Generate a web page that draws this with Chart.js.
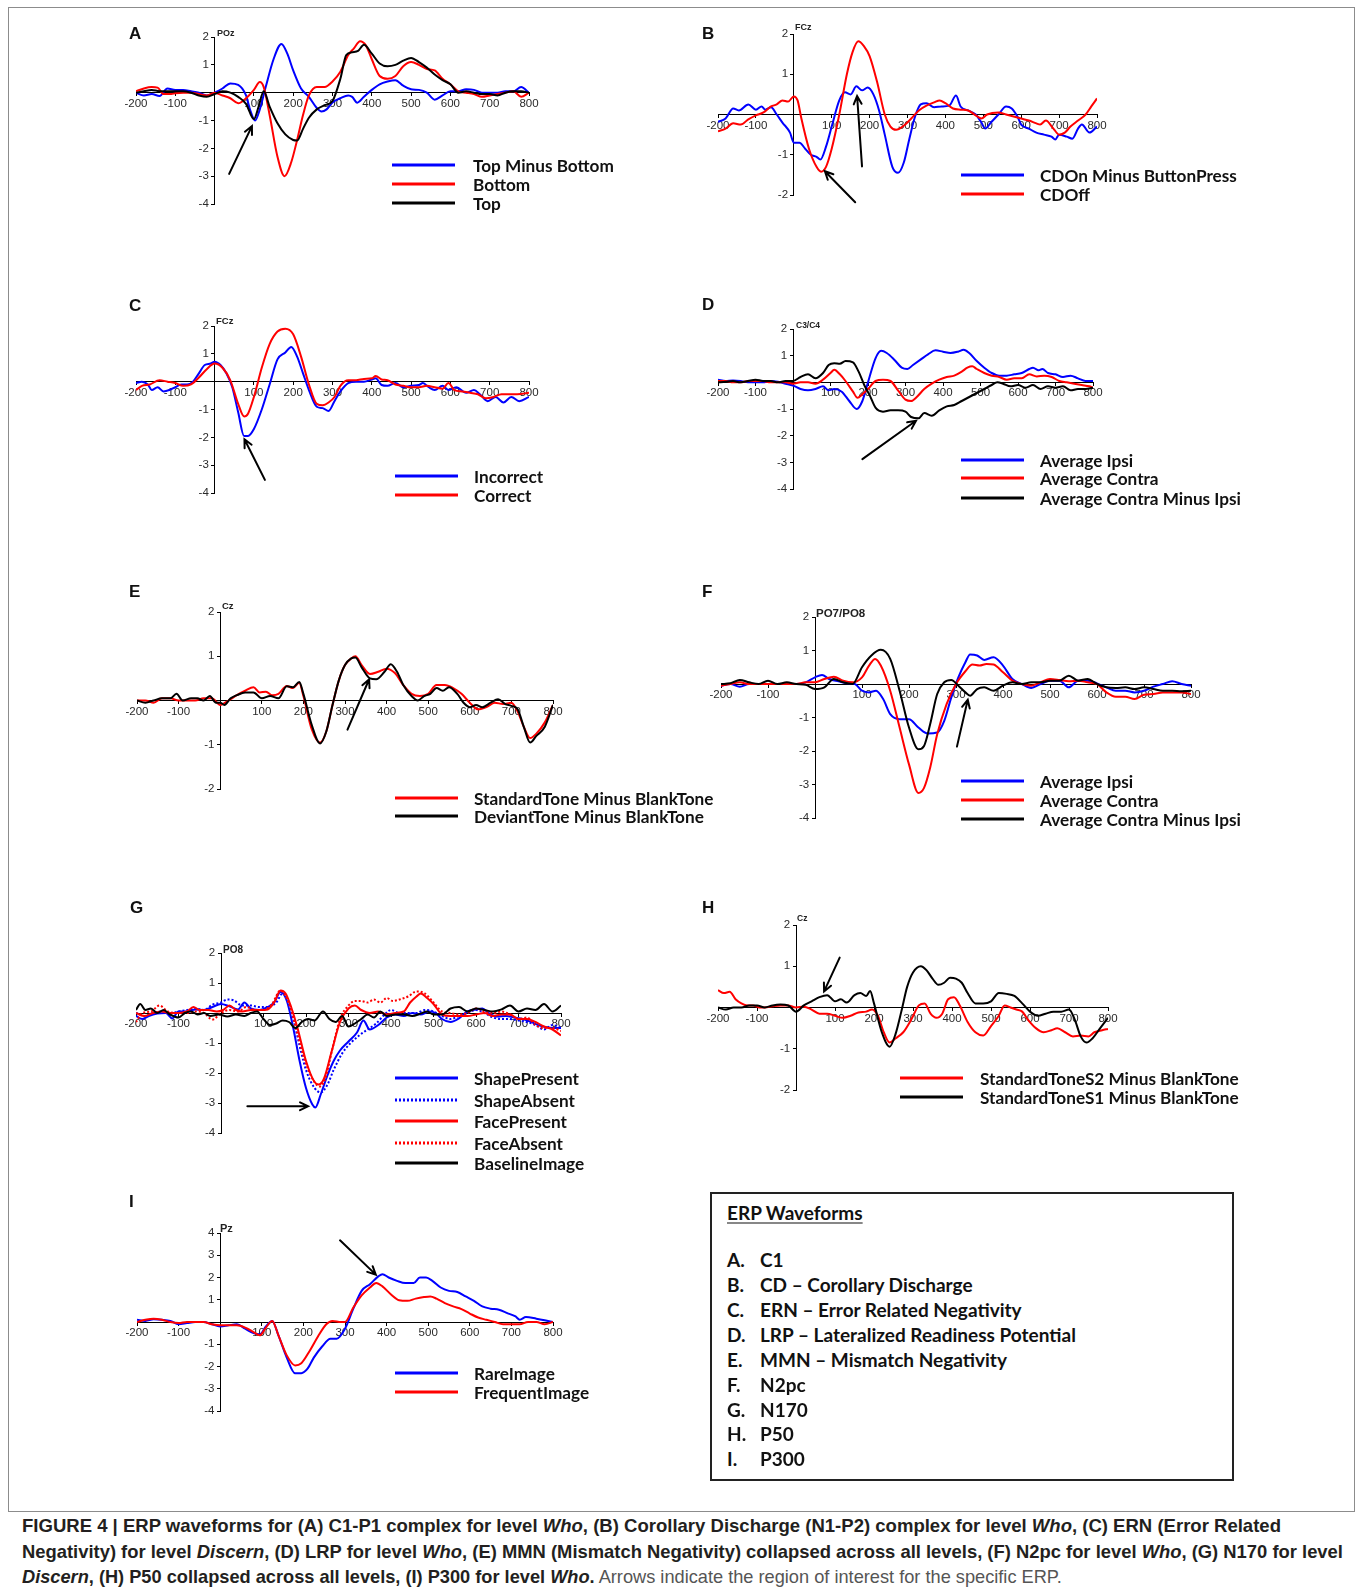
<!DOCTYPE html>
<html>
<head>
<meta charset="utf-8">
<title>ERP waveforms</title>
<script src="https://cdn.jsdelivr.net/npm/chart.js@4.4.1/dist/chart.umd.min.js"></script>
<style>
  html, body { margin: 0; padding: 0; background: #fff; }
  #fig { position: relative; width: 1362px; height: 1595px; overflow: hidden; background: #fff; }
  .frame { position: absolute; left: 8px; top: 7px; width: 1347px; height: 1505px; border: 1px solid #8c8c8c; box-sizing: border-box; }
  .letter { position: absolute; font: bold 17px "Liberation Sans", Arial, sans-serif; color: #111; transform: translateY(-50%); }
  .elec { position: absolute; font-family: "Liberation Sans", Arial, sans-serif; font-weight: bold; color: #222; transform: translateY(-50%); white-space: nowrap; }
  .lg-line { position: absolute; height: 3px; transform: translateY(-50%); }
  .lg-text { position: absolute; font: 700 17.2px Lato, "Open Sans", sans-serif; color: #111; transform: translateY(-50%); white-space: nowrap; }
  .box { position: absolute; left: 710px; top: 1192px; width: 524px; height: 289px; border: 2px solid #222; box-sizing: border-box; }
  .box-t { position: absolute; font: 700 19px Lato, "Open Sans", sans-serif; color: #111; transform: translateY(-50%); white-space: nowrap; }
  .cap { position: absolute; left: 22px; white-space: nowrap; font-family: "Liberation Sans Narrow", "Liberation Sans", Arial, sans-serif; font-size: 18.5px; color: #231f20; transform-origin: 0 50%; }
  .cap b { font-weight: bold; }
  .cap .reg { font-weight: normal; color: #555; }
</style>
</head>
<body>
<div id="fig">
  <div class="frame"></div>
</div>
<script>
// ---------- waveform data: [time (ms), amplitude (µV)] ----------
const xTicks = [-200, -100, 0, 100, 200, 300, 400, 500, 600, 700, 800];

// A  C1 (POz)
const A_topMinusBottom = [[-200,0],[-180,-0.1],[-160,-0.05],[-140,-0.12],[-120,0.15],[-100,0.1],[-80,0.1],[-60,0.05],[-40,0],[-20,-0.1],[0,0],[20,0.15],[40,0.33],[60,0.28],[80,-0.1],[90,-0.6],[103,-1.0],[115,-0.6],[130,0.2],[150,1.2],[170,1.75],[185,1.4],[200,0.8],[220,0.15],[240,-0.15],[260,-0.55],[272,-0.68],[285,-0.6],[300,-0.35],[320,-0.2],[340,-0.1],[350,-0.15],[363,-0.36],[380,-0.15],[400,0.1],[420,0.3],[440,0.4],[460,0.45],[480,0.25],[500,0.12],[520,0.1],[540,0],[560,-0.25],[580,-0.1],[600,0.05],[620,0.05],[640,0.12],[660,0.1],[680,0],[700,0],[720,0],[740,0.05],[760,0.05],[780,0.2],[800,0]];
const A_bottom = [[-200,0.05],[-180,0.15],[-160,0.2],[-145,0.18],[-130,-0.05],[-110,-0.05],[-100,-0.02],[-80,0],[-60,0],[-40,-0.05],[-20,-0.1],[0,0],[20,-0.1],[40,-0.2],[60,-0.38],[80,-0.2],[100,0.1],[115,0.38],[125,0.2],[140,-0.8],[160,-2.3],[178,-3.0],[195,-2.5],[210,-1.7],[225,-0.8],[240,-0.1],[260,0.2],[280,0.2],[300,0.4],[320,0.75],[340,1.35],[355,1.6],[370,1.85],[385,1.7],[400,1.2],[420,0.6],[440,0.5],[460,0.6],[480,0.95],[500,1.1],[520,1.0],[540,0.85],[560,0.8],[580,0.5],[600,0.3],[620,0.05],[640,0],[660,-0.05],[680,-0.15],[700,-0.1],[720,-0.05],[740,0],[760,0.05],[780,-0.15],[800,0]];
const A_top = [[-200,0],[-180,0.05],[-160,0.1],[-140,0.05],[-120,0.05],[-100,0.05],[-80,0.05],[-60,0],[-40,-0.1],[-20,-0.15],[0,-0.05],[20,0.05],[40,0],[60,-0.15],[80,-0.4],[100,-0.95],[112,-0.5],[125,0.05],[140,-0.5],[160,-1.1],[180,-1.5],[200,-1.7],[210,-1.72],[225,-1.3],[240,-0.9],[260,-0.6],[280,-0.45],[300,-0.3],[320,0.5],[335,1.35],[350,1.45],[365,1.5],[380,1.72],[400,1.4],[420,1.05],[440,0.95],[460,1.0],[480,1.15],[500,1.25],[520,1.1],[540,0.9],[560,0.65],[580,0.45],[600,0.3],[620,0],[640,0.05],[660,0],[680,-0.05],[700,-0.05],[720,-0.1],[740,0],[760,0.05],[780,0.05],[800,0]];

// B  Corollary discharge (FCz)
const B_cdOnMinusButton = [[-200,-0.18],[-180,-0.1],[-160,0.15],[-145,0.1],[-120,0.25],[-100,0.12],[-85,0.2],[-75,0.12],[-60,0.18],[-45,0],[-30,-0.2],[-10,-0.45],[0,-0.7],[15,-0.7],[30,-0.85],[45,-1.0],[60,-1.05],[70,-1.12],[85,-0.8],[100,-0.3],[120,0.35],[135,0.55],[150,0.5],[165,0.7],[180,0.6],[195,0.67],[210,0.5],[225,0.1],[240,-0.5],[260,-1.3],[275,-1.45],[290,-1.2],[305,-0.6],[320,-0.05],[335,0.25],[350,0.28],[370,0.18],[390,0.2],[410,0.22],[428,0.47],[440,0.2],[460,0.1],[480,0],[495,-0.2],[505,-0.35],[520,-0.2],[540,0],[560,0.2],[575,0.15],[590,-0.05],[600,-0.25],[620,-0.35],[640,-0.45],[660,-0.5],[680,-0.55],[690,-0.62],[700,-0.5],[720,-0.55],[735,-0.6],[750,-0.35],[760,-0.25],[780,-0.45],[800,-0.3]];
const B_cdOff = [[-200,-0.42],[-180,-0.35],[-160,-0.22],[-140,-0.25],[-120,-0.12],[-100,-0.02],[-80,0.05],[-60,0.2],[-45,0.25],[-30,0.35],[-15,0.32],[0,0.45],[10,0.35],[20,-0.1],[40,-0.85],[60,-1.3],[72,-1.42],[85,-1.3],[100,-0.85],[120,0],[140,1.0],[155,1.55],[170,1.82],[185,1.7],[200,1.45],[220,0.8],[240,0],[255,-0.3],[270,-0.38],[290,-0.28],[310,-0.1],[330,0.1],[350,0.22],[370,0.3],[385,0.35],[400,0.28],[420,0.15],[440,0.12],[460,0.1],[480,-0.02],[495,-0.1],[510,0],[540,0.05],[560,0],[580,-0.05],[600,-0.1],[620,-0.15],[640,-0.22],[650,-0.25],[665,-0.15],[685,-0.35],[700,-0.5],[715,-0.45],[730,-0.3],[750,-0.15],[770,0],[785,0.2],[800,0.4]];

// C  ERN (FCz)
const C_incorrect = [[-200,-0.05],[-185,0],[-170,-0.1],[-160,-0.3],[-145,-0.2],[-130,-0.35],[-115,-0.3],[-100,-0.2],[-85,-0.1],[-70,-0.1],[-55,0],[-40,0.3],[-25,0.6],[-10,0.65],[0,0.72],[15,0.6],[30,0.3],[45,-0.2],[60,-1.1],[75,-1.95],[85,-1.95],[100,-1.7],[120,-1.0],[140,-0.1],[160,0.8],[180,1.05],[195,1.25],[210,0.9],[225,0.3],[240,-0.3],[260,-0.9],[275,-0.95],[290,-1.05],[305,-0.7],[320,-0.35],[340,-0.05],[360,0],[380,0],[400,0.08],[410,0.12],[425,-0.12],[440,-0.15],[460,-0.05],[480,-0.2],[500,-0.15],[520,-0.12],[530,-0.05],[545,-0.2],[560,-0.3],[580,-0.15],[595,-0.3],[615,-0.2],[640,-0.4],[660,-0.3],[675,-0.45],[695,-0.7],[715,-0.55],[735,-0.75],[755,-0.55],[775,-0.7],[800,-0.55]];
const C_correct = [[-200,-0.3],[-185,-0.15],[-165,-0.1],[-140,0.05],[-120,0],[-100,-0.05],[-80,-0.15],[-60,-0.1],[-40,0.15],[-20,0.45],[0,0.65],[20,0.5],[40,0.05],[60,-0.8],[75,-1.25],[85,-1.15],[100,-0.55],[120,0.5],[140,1.35],[160,1.8],[180,1.9],[200,1.7],[220,0.9],[240,-0.1],[260,-0.8],[275,-0.85],[290,-0.75],[305,-0.55],[320,-0.15],[340,0.05],[360,0.05],[380,0.1],[400,0.12],[410,0.2],[425,0.08],[440,0.05],[460,-0.1],[480,-0.15],[500,-0.2],[520,-0.2],[540,-0.15],[560,-0.2],[580,-0.25],[595,-0.05],[610,-0.3],[630,-0.35],[650,-0.4],[670,-0.45],[690,-0.6],[710,-0.55],[730,-0.45],[750,-0.45],[770,-0.45],[800,-0.4]];

// D  LRP (C3/C4)
const D_ipsi = [[-200,0.1],[-180,0.05],[-160,0.07],[-140,0.05],[-120,0],[-100,0],[-80,0],[-60,0.05],[-40,0.02],[-20,-0.05],[0,-0.12],[20,-0.25],[40,-0.3],[60,-0.25],[80,-0.15],[95,-0.3],[110,-0.25],[130,-0.35],[150,-0.7],[170,-1.0],[185,-0.7],[200,0],[220,0.9],[235,1.18],[250,1.1],[270,0.85],[290,0.55],[305,0.5],[320,0.65],[340,0.85],[360,1.05],[380,1.2],[400,1.15],[420,1.1],[440,1.15],[455,1.22],[470,1.1],[490,0.8],[510,0.55],[530,0.35],[550,0.25],[570,0.25],[590,0.3],[610,0.35],[630,0.5],[640,0.55],[655,0.45],[665,0.5],[680,0.35],[700,0.3],[720,0.2],[740,0.25],[760,0.15],[780,0.05],[800,0.05]];
const D_contra = [[-200,0.05],[-180,0.05],[-160,0],[-140,0],[-120,0.05],[-100,0.05],[-80,0.05],[-60,0],[-40,0],[-20,0],[0,-0.05],[20,0],[40,0],[60,-0.05],[80,0.1],[100,0.35],[110,0.47],[125,0.3],[140,0.05],[160,-0.35],[172,-0.58],[185,-0.45],[200,-0.25],[220,0.05],[240,0.1],[260,0.05],[280,-0.3],[300,-0.65],[315,-0.7],[330,-0.55],[350,-0.25],[370,-0.05],[390,0.1],[410,0.2],[430,0.25],[450,0.4],[465,0.55],[478,0.6],[490,0.5],[510,0.35],[530,0.25],[550,0.2],[570,0.1],[590,0.15],[610,0.15],[630,0.3],[650,0.22],[670,0.25],[690,0.2],[710,0.05],[730,0],[750,-0.05],[770,-0.1],[790,-0.15],[800,-0.2]];
const D_contraMinusIpsi = [[-200,0],[-180,0.02],[-160,0.05],[-140,0],[-120,0.05],[-100,0.1],[-80,0.05],[-60,0.05],[-40,0],[-20,0.05],[0,0.05],[20,0.2],[40,0.3],[60,0.15],[80,0.35],[95,0.65],[110,0.72],[125,0.7],[140,0.8],[160,0.75],[175,0.4],[190,-0.1],[205,-0.5],[220,-0.95],[240,-1.1],[260,-1.05],[280,-1.05],[300,-1.1],[315,-1.3],[335,-1.35],[350,-1.15],[370,-1.25],[390,-1.05],[410,-0.9],[430,-0.85],[450,-0.7],[470,-0.55],[490,-0.4],[510,-0.25],[530,-0.1],[545,0],[560,-0.05],[580,-0.15],[600,-0.1],[620,-0.2],[640,-0.1],[660,-0.25],[680,-0.15],[700,-0.2],[720,-0.15],[740,-0.3],[760,-0.25],[780,-0.25],[800,-0.2]];

// E  MMN (Cz)
const E_standard = [[-200,0],[-180,0],[-160,-0.05],[-140,0.05],[-120,0.05],[-100,0],[-80,0],[-60,0],[-40,0.05],[-20,0.05],[0,-0.1],[20,0],[40,0.12],[60,0.22],[80,0.3],[95,0.18],[110,0.2],[125,0.12],[140,0.15],[160,0.33],[175,0.28],[190,0.4],[200,0.1],[220,-0.65],[240,-0.95],[255,-0.7],[270,-0.1],[285,0.45],[300,0.8],[315,0.95],[325,1.0],[340,0.8],[360,0.6],[380,0.65],[400,0.72],[420,0.62],[440,0.35],[460,0.15],[480,0.1],[500,0.15],[520,0.35],[540,0.35],[560,0.28],[580,0.15],[600,-0.05],[620,-0.2],[640,-0.15],[660,-0.05],[680,-0.08],[700,-0.05],[715,-0.25],[730,-0.6],[745,-0.85],[760,-0.75],[780,-0.5],[800,-0.1]];
const E_deviant = [[-200,0],[-180,-0.05],[-160,0],[-140,0.05],[-120,0.05],[-105,0.15],[-90,0],[-70,0.05],[-55,0.05],[-40,0],[-25,0.1],[-10,-0.05],[0,-0.05],[10,-0.1],[25,0.05],[40,0.12],[60,0.18],[80,0.18],[100,0.05],[120,0.1],[140,0.05],[160,0.32],[175,0.3],[190,0.42],[200,0.15],[220,-0.55],[240,-0.97],[255,-0.7],[270,-0.1],[285,0.45],[300,0.8],[315,0.95],[325,0.97],[340,0.75],[360,0.5],[375,0.48],[395,0.65],[410,0.82],[425,0.65],[440,0.35],[460,0.1],[475,0],[490,0.1],[505,0.15],[520,0.28],[535,0.22],[550,0.3],[570,0.15],[585,-0.05],[600,-0.15],[615,-0.1],[630,-0.15],[650,-0.05],[668,0.03],[685,-0.08],[700,-0.12],[715,-0.2],[730,-0.6],[745,-0.95],[760,-0.8],[780,-0.6],[800,-0.1]];

// F  N2pc (PO7/PO8)
const F_ipsi = [[-200,-0.05],[-180,0],[-160,-0.08],[-140,0],[-120,0],[-100,0],[-80,0],[-60,0],[-40,0],[-20,0.05],[0,0.2],[15,0.27],[30,0.15],[50,0.08],[70,0.02],[85,0],[100,-0.2],[115,-0.25],[130,-0.2],[145,-0.45],[160,-0.9],[180,-1.05],[200,-1.05],[220,-1.3],[240,-1.48],[260,-1.45],[275,-1.1],[290,-0.4],[305,0.2],[320,0.65],[330,0.88],[345,0.85],[360,0.72],[380,0.8],[400,0.55],[420,0.15],[440,0],[460,-0.12],[480,0],[500,0.1],[520,0.1],[540,-0.1],[560,0.1],[580,0.1],[600,0.02],[620,-0.1],[640,-0.2],[660,-0.2],[680,-0.25],[700,-0.2],[720,-0.08],[740,0],[760,0.08],[780,0],[800,-0.05]];
const F_contra = [[-200,-0.05],[-180,0],[-160,0.05],[-140,0],[-120,0],[-100,0],[-80,0],[-60,0],[-40,0],[-20,0.05],[0,0.05],[20,0.15],[40,0.22],[60,0.1],[80,0.05],[100,0.2],[115,0.55],[128,0.75],[140,0.55],[160,-0.2],[180,-1.3],[200,-2.4],[220,-3.25],[232,-3.1],[245,-2.5],[260,-1.5],[280,-0.6],[300,0],[320,0.38],[335,0.58],[350,0.55],[365,0.6],[380,0.58],[400,0.35],[420,0.1],[440,0],[460,-0.05],[480,0.05],[500,0.15],[520,0.12],[540,0.08],[560,0.1],[580,0.05],[600,0],[620,-0.25],[640,-0.38],[660,-0.38],[680,-0.45],[700,-0.32],[720,-0.3],[740,-0.25],[760,-0.25],[780,-0.25],[800,-0.3]];
const F_contraMinusIpsi = [[-200,0],[-180,0.02],[-160,0.12],[-140,0.05],[-120,0],[-100,0.1],[-80,0],[-60,0.05],[-40,0],[-20,-0.02],[0,-0.15],[20,-0.1],[40,0.15],[60,0.05],[80,0],[100,0.5],[120,0.85],[140,1.02],[160,0.75],[180,-0.2],[200,-1.3],[220,-1.95],[232,-1.85],[245,-1.2],[260,-0.3],[275,0.05],[290,0.12],[305,-0.05],[320,-0.25],[330,-0.35],[345,-0.15],[360,-0.1],[380,-0.2],[400,-0.05],[420,0.05],[440,0],[460,0.05],[480,0.05],[500,0.1],[520,0.1],[540,0.25],[560,0.1],[580,0.15],[600,0],[620,-0.1],[640,-0.12],[660,-0.1],[680,-0.15],[700,-0.1],[720,-0.15],[740,-0.2],[760,-0.2],[780,-0.22],[800,-0.2]];

// G  N170 (PO8)
const G_shapePresent = [[-200,-0.1],[-185,-0.2],[-170,-0.1],[-150,-0.02],[-130,0],[-115,-0.18],[-100,0.05],[-80,0.05],[-60,0.12],[-40,0.1],[-20,0.2],[0,0.3],[20,0.22],[40,0.12],[55,0.35],[70,0.15],[90,0.1],[110,0.2],[125,0.35],[140,0.7],[155,0.4],[170,-0.5],[185,-1.6],[200,-2.5],[215,-3.05],[222,-3.15],[235,-2.7],[250,-2.1],[265,-1.6],[280,-1.25],[300,-0.95],[320,-0.65],[335,-0.25],[350,-0.55],[370,-0.4],[390,-0.15],[410,-0.05],[430,-0.1],[450,0],[470,-0.05],[490,0.05],[505,0],[520,-0.2],[540,-0.3],[560,-0.18],[580,0.05],[600,0.12],[615,0.15],[630,0],[650,-0.12],[670,-0.1],[690,-0.15],[710,-0.2],[730,-0.3],[750,-0.42],[770,-0.48],[785,-0.5],[800,-0.5]];
const G_shapeAbsent = [[-200,0],[-180,-0.1],[-160,0],[-140,0.05],[-120,0],[-100,0.05],[-80,0.1],[-60,0.15],[-40,0.1],[-20,0.28],[0,0.35],[15,0.45],[30,0.42],[50,0.25],[70,0.25],[90,0.2],[110,0.2],[130,0.35],[145,0.65],[155,0.5],[170,-0.2],[185,-1.1],[200,-1.9],[220,-2.5],[235,-2.65],[250,-2.4],[265,-1.9],[285,-1.35],[305,-1.0],[325,-0.75],[345,-0.55],[365,-0.35],[385,-0.05],[400,0.1],[420,0],[440,0],[460,0],[480,0.1],[500,0.05],[520,-0.1],[540,-0.2],[560,-0.1],[580,0],[600,0.1],[620,0],[640,-0.15],[660,-0.2],[680,-0.2],[700,-0.25],[720,-0.3],[740,-0.4],[760,-0.55],[780,-0.4],[800,-0.5]];
const G_facePresent = [[-200,0],[-180,-0.1],[-160,0],[-140,0.05],[-120,0],[-100,0],[-80,0.05],[-65,0.2],[-50,0.1],[-30,0.1],[-10,0.05],[5,0.1],[20,0.25],[35,0.1],[50,0.05],[70,0.1],[90,0.1],[110,0.12],[125,0.35],[140,0.75],[152,0.65],[165,0.2],[180,-0.5],[200,-1.6],[220,-2.3],[230,-2.38],[242,-2.2],[260,-1.3],[280,-0.3],[300,0.15],[315,0.25],[330,0.1],[350,0],[370,0.05],[390,-0.05],[410,0],[430,0.05],[445,0.35],[460,0.55],[470,0.65],[485,0.5],[500,0.3],[520,-0.05],[540,-0.1],[560,-0.1],[580,-0.1],[600,-0.05],[620,0],[640,-0.1],[660,-0.05],[680,-0.05],[700,-0.2],[720,-0.2],[740,-0.3],[760,-0.45],[780,-0.55],[800,-0.75]];
const G_faceAbsent = [[-200,-0.3],[-185,0],[-165,0.05],[-145,0.25],[-125,0.05],[-100,0],[-80,0],[-60,0.05],[-40,0],[-20,-0.22],[0,0],[20,0.1],[40,0.05],[60,0.2],[80,0.1],[100,0.1],[120,0.3],[140,0.75],[150,0.6],[165,0.1],[180,-0.7],[200,-1.7],[220,-2.3],[232,-2.45],[245,-2.2],[262,-1.2],[280,-0.2],[300,0.25],[315,0.4],[330,0.4],[345,0.35],[360,0.45],[375,0.35],[390,0.5],[405,0.4],[420,0.45],[440,0.55],[460,0.72],[480,0.65],[500,0.35],[520,0.05],[540,0],[560,-0.05],[580,0],[600,0.15],[620,0.05],[640,0],[660,0.05],[680,-0.05],[700,-0.2],[720,-0.15],[740,-0.4],[760,-0.5],[780,-0.5],[800,-0.6]];
const G_baselineImage = [[-200,0.1],[-190,0.3],[-178,0.1],[-165,0.15],[-150,0],[-135,0.1],[-120,-0.05],[-100,-0.15],[-85,0],[-70,0.05],[-55,-0.05],[-40,0],[-25,-0.1],[-5,-0.05],[15,-0.12],[35,-0.05],[55,-0.1],[70,0],[85,0.05],[100,-0.2],[115,-0.4],[130,-0.35],[145,-0.25],[160,-0.3],[175,-0.5],[190,-0.3],[205,-0.2],[220,-0.25],[240,0.05],[255,-0.2],[270,-0.3],[285,-0.1],[300,-0.45],[315,-0.35],[330,-0.2],[345,-0.05],[360,-0.15],[375,0.05],[390,-0.1],[410,-0.05],[430,-0.05],[450,-0.1],[470,-0.02],[485,0.05],[500,-0.05],[520,-0.05],[540,0.15],[560,0.2],[580,0.05],[600,0.15],[620,0.1],[640,0.05],[660,0.12],[680,0.25],[700,0.05],[720,0.15],[740,0.1],[760,0.3],[780,0.05],[800,0.25]];

// H  P50 (Cz)
const H_s2MinusBlank = [[-200,0.42],[-185,0.35],[-170,0.38],[-155,0.2],[-140,0.1],[-125,0.05],[-110,0.05],[-95,0],[-80,0],[-60,0.03],[-40,0.05],[-20,0.05],[0,0],[20,0.02],[40,-0.05],[60,-0.15],[80,-0.15],[100,-0.2],[120,-0.25],[140,-0.2],[160,-0.12],[180,-0.1],[195,-0.05],[210,-0.2],[225,-0.6],[240,-0.85],[255,-0.75],[275,-0.6],[295,-0.3],[315,0.05],[330,0.1],[345,-0.15],[360,-0.25],[375,-0.15],[390,0.2],[405,0.25],[420,0.05],[440,-0.35],[460,-0.6],[480,-0.68],[500,-0.45],[520,-0.2],[535,0.05],[550,0],[565,-0.05],[580,-0.1],[595,-0.3],[615,-0.5],[635,-0.6],[655,-0.55],[670,-0.5],[690,-0.6],[710,-0.7],[730,-0.68],[750,-0.7],[765,-0.6],[785,-0.55],[800,-0.52]];
const H_s1MinusBlank = [[-200,0],[-180,-0.05],[-160,0],[-140,0],[-120,0.05],[-100,0.05],[-80,0],[-60,0.05],[-40,0.07],[-20,0.05],[0,-0.1],[20,0.05],[40,0.15],[60,0.25],[80,0.3],[100,0.15],[115,0.2],[130,0.12],[150,0.3],[165,0.35],[180,0.28],[190,0.4],[200,0.1],[220,-0.6],[240,-0.95],[255,-0.65],[270,-0.1],[285,0.5],[300,0.85],[320,1.0],[335,0.9],[350,0.7],[365,0.55],[380,0.6],[395,0.72],[410,0.7],[425,0.6],[440,0.35],[460,0.1],[480,0.1],[500,0.15],[520,0.35],[540,0.33],[560,0.28],[580,0.1],[600,-0.1],[620,-0.2],[640,-0.15],[660,-0.1],[680,-0.1],[700,-0.05],[715,-0.3],[730,-0.7],[745,-0.85],[760,-0.75],[780,-0.5],[800,-0.25]];

// I  P300 (Pz)
const I_rareImage = [[-200,0.1],[-180,0.05],[-160,0.12],[-140,0.1],[-120,0.05],[-100,-0.1],[-80,-0.05],[-60,0],[-40,0],[-20,-0.1],[0,-0.2],[20,-0.15],[40,-0.1],[60,-0.3],[80,-0.5],[95,-0.55],[110,-0.2],[125,0.05],[140,-0.6],[160,-1.6],[180,-2.3],[195,-2.3],[210,-2.1],[225,-1.6],[245,-1.1],[265,-0.75],[280,-0.75],[300,-0.3],[320,0.6],[340,1.4],[360,1.7],[380,2.05],[390,2.15],[405,2.0],[425,1.85],[445,1.75],[465,1.75],[480,2.0],[495,2.0],[510,1.85],[530,1.55],[550,1.4],[570,1.35],[590,1.15],[610,0.95],[630,0.7],[650,0.6],[670,0.55],[690,0.4],[710,0.25],[720,0.1],[735,0.22],[760,0.15],[780,0.08],[800,0]];
const I_frequentImage = [[-200,0],[-180,0.1],[-160,0.15],[-140,0.1],[-120,0],[-100,-0.05],[-80,0],[-60,0],[-40,0],[-20,-0.1],[0,-0.15],[20,-0.15],[40,-0.15],[60,-0.25],[80,-0.45],[95,-0.6],[110,-0.25],[125,0.05],[140,-0.6],[160,-1.5],[180,-1.95],[195,-1.85],[215,-1.3],[235,-0.65],[255,-0.1],[270,0.05],[290,0],[300,0],[320,0.65],[340,1.2],[360,1.55],[375,1.75],[390,1.6],[410,1.25],[430,0.98],[450,0.95],[470,1.05],[490,1.12],[505,1.15],[520,1.05],[540,0.85],[560,0.7],[580,0.58],[600,0.38],[620,0.2],[640,0.1],[660,0],[680,-0.1],[700,-0.1],[720,-0.1],[740,0],[760,0],[780,-0.1],[800,0]];

// Arrows marking each region of interest: [tailTime, tailAmp, headTime, headAmp]
const A_arrows = [[37,-2.92,95,-1.2]];
const B_arrows = [[162,-2.18,82,-1.41],[180,-1.29,167,0.46]];
const C_arrows = [[128,-3.53,76,-2.07]];
const D_arrows = [[185,-2.88,328,-1.44]];
const E_arrows = [[306,-0.66,358,0.48]];
const F_arrows = [[302,-1.87,325,-0.47]];
const G_arrows = [[62,-3.11,205,-3.11]];
const H_arrows = [[112,1.21,72,0.39]];
const I_arrows = [[288,3.67,374,2.13]];

// Legend labels
const A_labels = ['Top Minus Bottom', 'Bottom', 'Top'];
const B_labels = ['CDOn Minus ButtonPress', 'CDOff'];
const C_labels = ['Incorrect', 'Correct'];
const D_labels = ['Average Ipsi', 'Average Contra', 'Average Contra Minus Ipsi'];
const E_labels = ['StandardTone Minus BlankTone', 'DeviantTone Minus BlankTone'];
const F_labels = ['Average Ipsi', 'Average Contra', 'Average Contra Minus Ipsi'];
const G_labels = ['ShapePresent', 'ShapeAbsent', 'FacePresent', 'FaceAbsent', 'BaselineImage'];
const H_labels = ['StandardToneS2 Minus BlankTone', 'StandardToneS1 Minus BlankTone'];
const I_labels = ['RareImage', 'FrequentImage'];

const boxTitle = 'ERP Waveforms';
const boxKeys = ['A.', 'B.', 'C.', 'D.', 'E.', 'F.', 'G.', 'H.', 'I.'];
const boxItems = ['C1', 'CD \u2013 Corollary Discharge', 'ERN \u2013 Error Related Negativity', 'LRP \u2013 Lateralized Readiness Potential', 'MMN \u2013 Mismatch Negativity', 'N2pc', 'N170', 'P50', 'P300'];

// ---------- layout & styling ----------
const BLUE = '#0000ff', RED = '#ff0000', BLACK = '#000000';
const DOT = [2, 2];

const panels = [
  { letter: 'A', lx: 129, ly: 34, elec: 'POz', ex: 217, ey: 33, es: 9,
    x0: 136, x1: 529, yTop: 37, yBot: 204, ymin: -4, ymax: 2,
    series: [[A_topMinusBottom, BLUE], [A_bottom, RED], [A_top, BLACK]], labels: A_labels,
    legX: 392, legTextX: 473, legY: [165, 184, 203], arrows: A_arrows },
  { letter: 'B', lx: 702, ly: 34, elec: 'FCz', ex: 795, ey: 27, es: 9,
    x0: 718, x1: 1097, yTop: 34, yBot: 195, ymin: -2, ymax: 2,
    series: [[B_cdOnMinusButton, BLUE], [B_cdOff, RED]], labels: B_labels,
    legX: 961, legTextX: 1040, legY: [175, 193.5], arrows: B_arrows },
  { letter: 'C', lx: 129, ly: 306, elec: 'FCz', ex: 216, ey: 320, es: 9.5,
    x0: 136, x1: 529, yTop: 326, yBot: 493, ymin: -4, ymax: 2,
    series: [[C_incorrect, BLUE], [C_correct, RED]], labels: C_labels,
    legX: 395, legTextX: 474, legY: [476, 494.5], arrows: C_arrows },
  { letter: 'D', lx: 702, ly: 305, elec: 'C3/C4', ex: 796, ey: 325, es: 8.5,
    x0: 718, x1: 1093, yTop: 329, yBot: 489, ymin: -4, ymax: 2,
    series: [[D_ipsi, BLUE], [D_contra, RED], [D_contraMinusIpsi, BLACK]], labels: D_labels,
    legX: 961, legTextX: 1040, legY: [460, 478, 497.5], arrows: D_arrows },
  { letter: 'E', lx: 129, ly: 592, elec: 'Cz', ex: 222, ey: 605, es: 9.5,
    x0: 137, x1: 553, yTop: 612, yBot: 789, ymin: -2, ymax: 2,
    series: [[E_standard, RED], [E_deviant, BLACK]], labels: E_labels,
    legX: 395, legTextX: 474, legY: [797.5, 816], arrows: E_arrows },
  { letter: 'F', lx: 702, ly: 592, elec: 'PO7/PO8', ex: 816, ey: 613, es: 11.5,
    x0: 721, x1: 1191, yTop: 617, yBot: 818, ymin: -4, ymax: 2,
    series: [[F_ipsi, BLUE], [F_contra, RED], [F_contraMinusIpsi, BLACK]], labels: F_labels,
    legX: 961, legTextX: 1040, legY: [781, 799.5, 819], arrows: F_arrows },
  { letter: 'G', lx: 130, ly: 908, elec: 'PO8', ex: 223, ey: 949, es: 10,
    x0: 136, x1: 561, yTop: 953, yBot: 1133, ymin: -4, ymax: 2,
    series: [[G_shapePresent, BLUE], [G_shapeAbsent, BLUE, DOT], [G_facePresent, RED], [G_faceAbsent, RED, DOT], [G_baselineImage, BLACK]], labels: G_labels,
    legX: 395, legTextX: 474, legY: [1078, 1099.5, 1121, 1142.5, 1163], arrows: G_arrows },
  { letter: 'H', lx: 702, ly: 908, elec: 'Cz', ex: 797, ey: 918, es: 8.5,
    x0: 718, x1: 1108, yTop: 925, yBot: 1090, ymin: -2, ymax: 2,
    series: [[H_s2MinusBlank, RED], [H_s1MinusBlank, BLACK]], labels: H_labels,
    legX: 900, legTextX: 980, legY: [1078, 1096.5], arrows: H_arrows },
  { letter: 'I', lx: 129, ly: 1202, elec: 'Pz', ex: 220, ey: 1228, es: 11,
    x0: 137, x1: 553, yTop: 1233, yBot: 1411, ymin: -4, ymax: 4,
    series: [[I_rareImage, BLUE], [I_frequentImage, RED]], labels: I_labels,
    legX: 395, legTextX: 474, legY: [1373, 1391.5], arrows: I_arrows }
];

const fig = document.getElementById('fig');
const PAD = 40;
const tickFont = { family: "'Liberation Sans', Arial, sans-serif", size: 11.5 };

function addDiv(cls, css, html) {
  const d = document.createElement('div');
  d.className = cls;
  d.style.cssText = css;
  if (html !== undefined) d.innerHTML = html;
  fig.appendChild(d);
  return d;
}

function arrowPlugin(list) {
  return {
    id: 'roiArrows',
    afterDatasetsDraw(chart) {
      const ctx = chart.ctx, xs = chart.scales.x, ys = chart.scales.y;
      ctx.save();
      ctx.strokeStyle = '#000';
      ctx.lineWidth = 2;
      ctx.lineCap = 'round';
      for (const [t0, v0, t1, v1] of list) {
        const x0 = xs.getPixelForValue(t0), y0 = ys.getPixelForValue(v0);
        const x1 = xs.getPixelForValue(t1), y1 = ys.getPixelForValue(v1);
        const ang = Math.atan2(y1 - y0, x1 - x0), L = 9, spread = 0.45;
        ctx.beginPath();
        ctx.moveTo(x0, y0); ctx.lineTo(x1, y1);
        ctx.moveTo(x1 - L * Math.cos(ang - spread), y1 - L * Math.sin(ang - spread));
        ctx.lineTo(x1, y1);
        ctx.lineTo(x1 - L * Math.cos(ang + spread), y1 - L * Math.sin(ang + spread));
        ctx.stroke();
      }
      ctx.restore();
    }
  };
}

function buildPanel(p) {
  const w = p.x1 - p.x0 + 2 * PAD, h = p.yBot - p.yTop + 2 * PAD;
  const cv = document.createElement('canvas');
  cv.width = w; cv.height = h;
  cv.style.cssText = `position:absolute;left:${p.x0 - PAD}px;top:${p.yTop - PAD}px;width:${w}px;height:${h}px;`;
  fig.appendChild(cv);

  const datasets = p.series.map(([pts, color, dash], i) => ({
    label: p.labels[i],
    data: pts.map(([x, y]) => ({ x, y })),
    borderColor: color,
    borderWidth: 2,
    borderDash: dash || [],
    pointRadius: 0,
    fill: false,
    cubicInterpolationMode: 'monotone',
    order: p.series.length - i
  }));

  new Chart(cv, {
    type: 'line',
    data: { datasets },
    options: {
      responsive: false,
      animation: false,
      devicePixelRatio: 1,
      events: [],
      layout: { padding: PAD },
      plugins: { legend: { display: false }, tooltip: { enabled: false }, title: { display: false } },
      scales: {
        x: {
          type: 'linear', min: -200, max: 800,
          position: { y: 0 },
          afterFit: s => { s.height = 0; },
          afterBuildTicks: s => { s.ticks = xTicks.map(v => ({ value: v })); },
          ticks: { autoSkip: false, maxRotation: 0, padding: 1, font: tickFont, color: '#2a2a2a',
                   callback: v => (v === 0 ? '' : String(v)) },
          grid: { display: true, drawOnChartArea: false, drawTicks: true, tickLength: 3, color: '#000', lineWidth: 1 },
          border: { display: true, color: '#000', width: 1 }
        },
        y: {
          type: 'linear', min: p.ymin, max: p.ymax,
          position: { x: 0 },
          afterFit: s => { s.width = 0; },
          // labels sit right-aligned on the axis line; the trailing gap keeps them clear of it
          ticks: { stepSize: 1, autoSkip: false, font: tickFont, color: '#2a2a2a',
                   callback: v => (v === 0 ? '' : String(v) + '\u2002') },
          grid: { display: true, drawOnChartArea: false, drawTicks: true, tickLength: 3, color: '#000', lineWidth: 1 },
          border: { display: true, color: '#000', width: 1 }
        }
      }
    },
    plugins: [arrowPlugin(p.arrows)]
  });

  // panel letter and electrode label
  addDiv('letter', `left:${p.lx}px;top:${p.ly}px;`, p.letter);
  addDiv('elec', `left:${p.ex}px;top:${p.ey}px;font-size:${p.es}px;`, p.elec);

  // legend
  p.series.forEach(([, color, dash], i) => {
    const y = p.legY[i];
    const bg = dash ? `repeating-linear-gradient(90deg, ${color} 0 2px, transparent 2px 4px)` : color;
    addDiv('lg-line', `left:${p.legX}px;top:${y}px;width:63px;background:${bg};`);
    addDiv('lg-text', `left:${p.legTextX}px;top:${y}px;`, p.labels[i]);
  });
}

panels.forEach(buildPanel);

// summary box
addDiv('box', '');
addDiv('box-t', 'left:727px;top:1212px;text-decoration:underline;text-underline-offset:3px;', boxTitle);
const boxY = [1259, 1284, 1309, 1334, 1359, 1383.5, 1408.5, 1433, 1457.5];
boxKeys.forEach((k, i) => {
  addDiv('box-t', `left:727px;top:${boxY[i]}px;`, k);
  addDiv('box-t', `left:760px;top:${boxY[i]}px;`, boxItems[i]);
});

// caption, each line stretched to its column width
const capLines = [
  { y: 1526, w: 1259, html: '<b>FIGURE 4 | ERP waveforms for (A) C1-P1 complex for level <i>Who</i>, (B) Corollary Discharge (N1-P2) complex for level <i>Who</i>, (C) ERN (Error Related</b>' },
  { y: 1552, w: 1321, html: '<b>Negativity) for level <i>Discern</i>, (D) LRP for level <i>Who</i>, (E) MMN (Mismatch Negativity) collapsed across all levels, (F) N2pc for level <i>Who</i>, (G) N170 for level</b>' },
  { y: 1577, w: 1040, html: '<b><i>Discern</i>, (H) P50 collapsed across all levels, (I) P300 for level <i>Who</i>.</b><span class="reg"> Arrows indicate the region of interest for the specific ERP.</span>' }
];
const capEls = capLines.map(c => addDiv('cap', `top:${c.y}px;`, c.html));
function fitCaption() {
  capEls.forEach((el, i) => {
    const natural = el.offsetWidth, hgt = el.offsetHeight;
    el.style.top = (capLines[i].y - hgt / 2) + 'px';
    el.style.transform = `scaleX(${capLines[i].w / natural})`;
  });
}
fitCaption();
if (document.fonts && document.fonts.ready) document.fonts.ready.then(fitCaption);
</script>
</body>
</html>
